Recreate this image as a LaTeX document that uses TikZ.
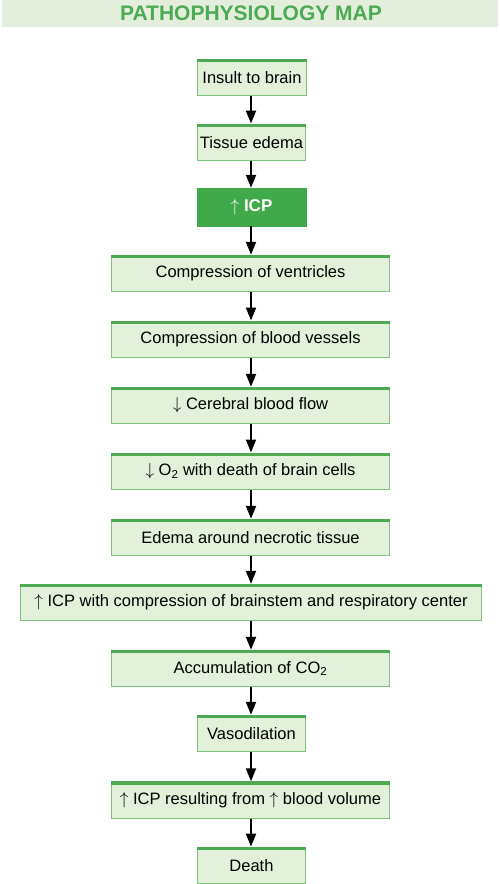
\documentclass[tikz,border=0pt]{standalone}
\usepackage{fontspec}
\setmainfont{Liberation Sans}
\usetikzlibrary{arrows.meta}
\definecolor{boxfill}{HTML}{E3F0DA}
\definecolor{boxline}{HTML}{7CC27A}
\definecolor{barcol}{HTML}{4CAB52}
\definecolor{icpgreen}{HTML}{40A94A}
\definecolor{titlecol}{HTML}{4BAA52}
\definecolor{bandfill}{HTML}{E4EEDD}
\newcommand{\upar}{$\uparrow$}
\newcommand{\dnar}{$\downarrow$}
\tikzset{
  stepbox/.style={draw=boxline, fill=boxfill, line width=0.9pt, minimum height=36.5pt,
    inner sep=0pt, font=\fontsize{16.5pt}{18pt}\selectfont, text=black},
  smallbox/.style={stepbox, minimum width=108.5pt},
  midbox/.style={stepbox, minimum width=278.5pt},
  widebox/.style={stepbox, minimum width=461.5pt},
  icpbox/.style={fill=icpgreen, draw=icpgreen, minimum width=108.5pt, minimum height=38pt,
    inner sep=0pt, text=white, font=\fontsize{17pt}{19pt}\selectfont\bfseries},
  flow/.style={line width=2pt, -{Triangle[width=10pt,length=13pt]}, black},
  topbar/.style={fill=barcol, draw=none},
}
\begin{document}
\begin{tikzpicture}[x=1pt,y=-1pt]
\useasboundingbox (0,0) rectangle (500,884);
\fill[bandfill] (2,0) rectangle (498,27);
\node[text=titlecol, font=\fontsize{21pt}{23pt}\selectfont\bfseries] (title) at (251,13.5) {PATHOPHYSIOLOGY MAP};

\node[smallbox] (n1) at (252,77.2) {Insult to brain};
\node[smallbox] (n2) at (251.5,142.3) {Tissue edema};
\node[icpbox] (n3) at (251.5,207) {\upar\ ICP};
\node[midbox] (n4) at (250.5,273.5) {Compression of ventricles};
\node[midbox] (n5) at (250.5,339.2) {Compression of blood vessels};
\node[midbox] (n6) at (250.5,405.5) {\dnar\ Cerebral blood flow};
\node[midbox] (n7) at (250.5,471.2) {\dnar\ O\textsubscript{2} with death of brain cells};
\node[midbox] (n8) at (250.5,537.5) {Edema around necrotic tissue};
\node[widebox] (n9) at (251,602.5) {\upar\ ICP with compression of brainstem and respiratory center};
\node[midbox] (n10) at (250.5,668.5) {Accumulation of CO\textsubscript{2}};
\node[smallbox] (n11) at (251.5,733.5) {Vasodilation};
\node[midbox] (n12) at (250.5,800) {\upar\ ICP resulting from \upar\ blood volume};
\node[smallbox] (n13) at (251.5,865.3) {Death};

\foreach \n in {n1,n2,n4,n5,n6,n7,n8,n9,n10,n11,n12,n13}{
  \fill[topbar] (\n.north west) rectangle ([yshift=-3.5pt]\n.north east);
}

\foreach \a/\b in {n1/n2,n2/n3,n3/n4,n4/n5,n5/n6,n6/n7,n7/n8,n8/n9,n9/n10,n10/n11,n11/n12,n12/n13}{
  \draw[flow] (\a.south -| 251,0) -- (\b.north -| 251,0);
}
\end{tikzpicture}
\end{document}
